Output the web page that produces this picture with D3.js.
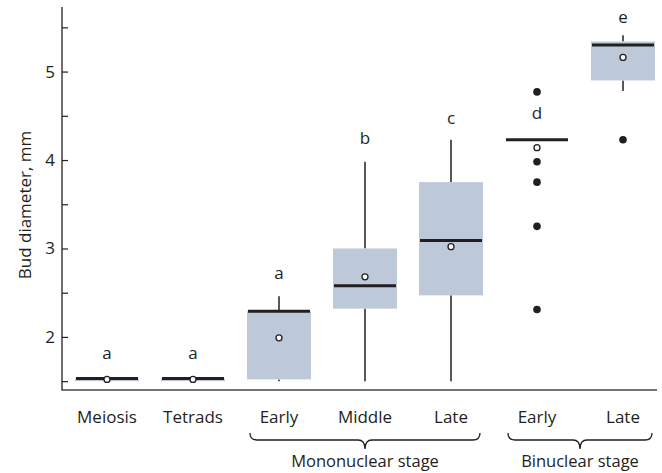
<!DOCTYPE html>
<html><head><meta charset="utf-8">
<script src="https://cdn.jsdelivr.net/npm/d3@7"></script>
<style>body{margin:0;background:#fff}svg{display:block;font-family:"Open Sans",sans-serif}</style>
</head><body><svg id="c" width="662" height="473"></svg>
<script>
const categories = ["Meiosis","Tetrads","Early","Middle","Late","Early","Late"];
const whiskerLo = [null, null, 1.50, 1.50, 1.50, null, 4.78];
const q1        = [1.50, 1.50, 1.52, 2.32, 2.47, 4.23, 4.90];
const median    = [1.53, 1.53, 2.29, 2.58, 3.09, 4.23, 5.30];
const q3        = [1.53, 1.53, 2.29, 3.00, 3.75, 4.23, 5.34];
const whiskerHi = [null, null, 2.46, 3.98, 4.23, null, 5.41];
const means     = [1.52, 1.52, 1.99, 2.68, 3.02, 4.14, 5.16];
const outliers  = [[], [], [], [], [], [4.77, 3.98, 3.75, 3.25, 2.31], [4.23]];
const letters   = ["a","a","a","b","c","d","e"];
const letterAt  = [1.82, 1.82, 2.72, 4.25, 4.48, 4.53, 5.62];
const groups = [{name:"Mononuclear stage", from:2, to:4}, {name:"Binuclear stage", from:5, to:6}];
const yTicks = [2,3,4,5];
const yMinor = [1.5,2.5,3.5,4.5,5.5];

const svg = d3.select("#c");
const ink = "#231f20";
const fs = 17;
const x = d3.scalePoint().domain(d3.range(categories.length)).range([107,623]);
const y = d3.scaleLinear().domain([1.4,5.73]).range([390,7]);
const bw = 64;

// axes
const ya = svg.append("g").attr("transform","translate(62,0)");
ya.call(d3.axisRight(y).tickValues(yMinor).tickSize(6).tickFormat(""));
const ya2 = svg.append("g").attr("transform","translate(62,0)");
ya2.call(d3.axisRight(y).tickValues(yTicks).tickSize(6).tickFormat(d3.format("d")));
[ya,ya2].forEach(g=>{g.select(".domain").remove(); g.selectAll("line").attr("stroke",ink).attr("stroke-width",1.2);});
ya2.selectAll("text").attr("x",-7).attr("text-anchor","end").attr("font-size",fs).attr("fill",ink).attr("font-family","Open Sans");
svg.append("line").attr("x1",62).attr("x2",62).attr("y1",7).attr("y2",390).attr("stroke",ink).attr("stroke-width",1.3);
svg.append("line").attr("x1",61.4).attr("x2",657).attr("y1",390).attr("y2",390).attr("stroke","#444").attr("stroke-width",1.3);

svg.append("text").attr("transform","translate(31,205) rotate(-90)").attr("text-anchor","middle")
  .attr("font-size",fs).attr("fill",ink).text("Bud diameter, mm");

const g = svg.append("g");
categories.forEach((c,i)=>{
  const cx = x(i);
  if (whiskerHi[i]!=null) g.append("line").attr("x1",cx).attr("x2",cx).attr("y1",y(q3[i])).attr("y2",y(whiskerHi[i])).attr("stroke",ink).attr("stroke-width",1.5);
  if (whiskerLo[i]!=null) g.append("line").attr("x1",cx).attr("x2",cx).attr("y1",y(q1[i])).attr("y2",y(whiskerLo[i])).attr("stroke",ink).attr("stroke-width",1.5);
  g.append("rect").attr("x",cx-bw/2).attr("width",bw).attr("y",y(q3[i])).attr("height",Math.max(0,y(q1[i])-y(q3[i]))).attr("fill","#bdc8d9");
  g.append("line").attr("x1",cx-bw/2+1).attr("x2",cx+bw/2-1).attr("y1",y(median[i])).attr("y2",y(median[i])).attr("stroke",ink).attr("stroke-width",3);
  outliers[i].forEach(v=>g.append("circle").attr("cx",cx).attr("cy",y(v)).attr("r",3.8).attr("fill",ink));
  g.append("circle").attr("cx",cx).attr("cy",y(means[i])).attr("r",3).attr("fill","#fff").attr("stroke",ink).attr("stroke-width",1.3);
  g.append("text").attr("x",cx).attr("y",y(letterAt[i])).attr("dy","0.35em").attr("text-anchor","middle").attr("font-size",fs).attr("fill",ink).text(letters[i]);
  svg.append("text").attr("x",cx).attr("y",423).attr("text-anchor","middle").attr("font-size",fs).attr("fill",ink).text(c);
});

// braces
groups.forEach(gr=>{
  const x0 = x(gr.from)-29, x1 = x(gr.to)+29, xm = (x0+x1)/2;
  const top = 433, mid = 440, tip = 449, r = 7;
  const p = `M${x0},${top} Q${x0},${mid} ${x0+r},${mid} L${xm-r},${mid} Q${xm},${mid} ${xm},${tip} Q${xm},${mid} ${xm+r},${mid} L${x1-r},${mid} Q${x1},${mid} ${x1},${top}`;
  svg.append("path").attr("d",p).attr("fill","none").attr("stroke",ink).attr("stroke-width",1.3);
  svg.append("text").attr("x",xm).attr("y",467).attr("text-anchor","middle").attr("font-size",16.5).attr("fill",ink).text(gr.name);
});
</script></body></html>
